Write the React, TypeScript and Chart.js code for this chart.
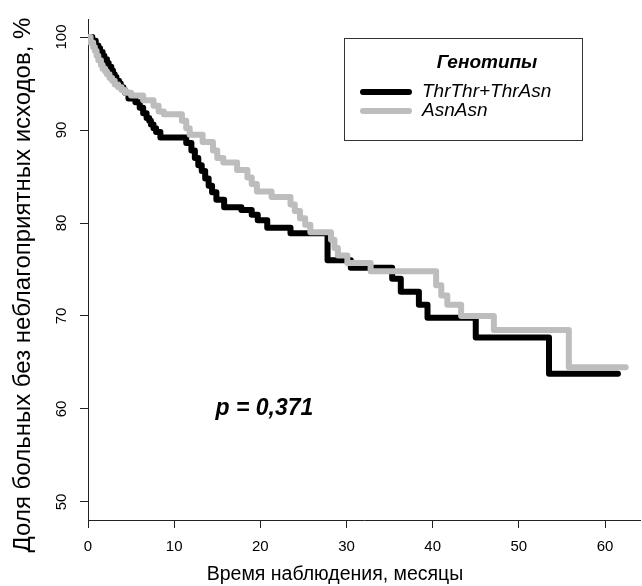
import React, { useEffect, useRef } from 'react';
import { Chart, registerables } from 'chart.js';

Chart.register(...registerables);

const xTicks = [0, 10, 20, 30, 40, 50, 60];
const yTicks = [50, 60, 70, 80, 90, 100];

const seriesLabels = ['ThrThr+ThrAsn', 'AsnAsn'];
const legendTitle = 'Генотипы';
const pValueText = 'p = 0,371';
const xTitle = 'Время наблюдения, месяцы';
const yTitle = 'Доля больных без неблагоприятных исходов, %';

const thrTimes = [0, 0.5, 0.9, 1.2, 1.4, 1.7, 1.9, 2.2, 2.4, 2.7, 2.9, 3.1, 3.3, 3.6, 3.8, 4.1, 4.3, 4.7, 5.5, 6.0, 6.4, 6.8, 7.1, 7.3, 7.6, 7.9, 8.4, 11.4, 12.0, 12.4, 12.8, 13.2, 13.6, 14.0, 14.4, 14.9, 15.8, 17.8, 19.0, 19.7, 20.8, 23.5, 27.8, 30.5, 35.3, 36.3, 38.4, 39.4, 45.0, 53.5, 61.5];
const thrSurv = [100, 99.6, 99.1, 98.8, 98.4, 98.0, 97.6, 97.2, 96.8, 96.4, 96.0, 95.7, 95.3, 95.0, 94.6, 94.3, 94.0, 93.4, 93.0, 92.4, 91.8, 91.3, 91.0, 90.6, 90.2, 89.8, 89.2, 88.6, 87.8, 87.0, 86.2, 85.6, 84.8, 84.0, 83.3, 82.5, 81.7, 81.4, 80.9, 80.3, 79.5, 78.9, 76.0, 75.2, 74.0, 72.6, 71.2, 69.8, 67.7, 63.8, 63.8];

const asnTimes = [0, 0.3, 0.6, 0.8, 1.0, 1.2, 1.5, 1.7, 2.0, 2.2, 2.5, 2.8, 3.1, 3.5, 3.9, 4.3, 5.0, 6.4, 7.6, 8.2, 8.8, 10.9, 11.4, 11.8, 13.3, 14.5, 15.0, 15.7, 17.3, 18.5, 19.0, 19.6, 21.3, 23.5, 24.0, 24.6, 25.2, 25.8, 28.2, 28.6, 29.0, 30.1, 32.8, 40.4, 41.0, 41.7, 43.3, 47.1, 55.8, 62.4];
const asnSurv = [100, 99.4, 98.9, 98.5, 98.0, 97.5, 97.0, 96.6, 96.3, 96.0, 95.6, 95.3, 94.9, 94.6, 94.3, 94.0, 93.7, 93.2, 92.6, 92.0, 91.7, 91.0, 90.2, 89.5, 88.7, 87.8, 87.0, 86.5, 85.7, 84.9, 84.2, 83.4, 82.8, 82.0, 81.3, 80.5, 79.8, 79.0, 78.2, 77.3, 76.5, 75.7, 74.8, 73.3, 72.2, 71.2, 70.0, 68.5, 64.5, 64.5];

const FONT = "'Liberation Sans', Arial, Helvetica, sans-serif";
const BLACK = '#000000';
const GRAY = '#bdbdbd';

const toPoints = (t: number[], v: number[]) => t.map((x, i) => ({ x, y: v[i] }));

const overlayPlugin = {
  id: 'overlay',
  afterDraw(chart: any) {
    const ctx = chart.ctx as CanvasRenderingContext2D;
    const ys = chart.scales.y;
    const xs = chart.scales.x;
    ctx.save();
    ctx.fillStyle = '#000';
    // rotated y tick labels
    ctx.font = `15px ${FONT}`;
    ctx.textAlign = 'center';
    ctx.textBaseline = 'middle';
    ys.ticks.forEach((t: any) => {
      const y = ys.getPixelForValue(t.value);
      ctx.save();
      ctx.translate(62, y);
      ctx.rotate(-Math.PI / 2);
      ctx.fillText(String(t.value), 0, 0);
      ctx.restore();
    });
    // y title
    ctx.save();
    ctx.font = `24px ${FONT}`;
    ctx.translate(23, 285);
    ctx.rotate(-Math.PI / 2);
    ctx.fillText(yTitle, 0, 0);
    ctx.restore();

    // x title
    ctx.font = `19.5px ${FONT}`;
    ctx.textAlign = 'center';
    ctx.fillText(xTitle, 335, 575);

    // legend box
    ctx.strokeStyle = '#333';
    ctx.lineWidth = 1;
    ctx.strokeRect(344.5, 38.5, 238, 102);
    ctx.font = `bold italic 19px ${FONT}`;
    ctx.textAlign = 'center';
    ctx.fillText(legendTitle, 487, 63);
    const colors = [BLACK, GRAY];
    const rowsY = [92, 111];
    seriesLabels.forEach((lab, i) => {
      ctx.strokeStyle = colors[i];
      ctx.lineWidth = 6;
      ctx.lineCap = 'round';
      ctx.beginPath();
      ctx.moveTo(363, rowsY[i]);
      ctx.lineTo(409, rowsY[i]);
      ctx.stroke();
      ctx.font = `italic 19px ${FONT}`;
      ctx.textAlign = 'left';
      ctx.fillText(lab, 422, rowsY[i]);
    });

    // p value
    ctx.font = `bold italic 23px ${FONT}`;
    ctx.textAlign = 'left';
    ctx.fillText(pValueText, xs.getPixelForValue(14.8), ys.getPixelForValue(60));
    ctx.restore();
  },
};

export default function App() {
  const ref = useRef<HTMLCanvasElement | null>(null);
  useEffect(() => {
    document.body.style.margin = '0';
    const canvas = ref.current!;
    const chart = new Chart(canvas, {
      type: 'line',
      data: {
        datasets: [
          {
            label: seriesLabels[0],
            data: toPoints(thrTimes, thrSurv),
            borderColor: BLACK,
            borderWidth: 6,
            stepped: 'before',
            pointRadius: 0,
            fill: false,
            borderCapStyle: 'round',
            borderJoinStyle: 'round',
            order: 1,
          },
          {
            label: seriesLabels[1],
            data: toPoints(asnTimes, asnSurv),
            borderColor: GRAY,
            borderWidth: 6,
            stepped: 'before',
            pointRadius: 0,
            fill: false,
            borderCapStyle: 'round',
            borderJoinStyle: 'round',
            order: 0,
          },
        ],
      },
      options: {
        animation: false,
        responsive: false,
        maintainAspectRatio: false,
        layout: { padding: { top: 19, right: 2, left: 0, bottom: 0 } },
        plugins: { legend: { display: false }, tooltip: { enabled: false } },
        scales: {
          x: {
            type: 'linear',
            min: 0,
            max: 64.06,
            afterBuildTicks: (s: any) => { s.ticks = xTicks.map((v) => ({ value: v })); },
            afterFit: (s: any) => { s.height = 66; },
            grid: { drawOnChartArea: false, drawTicks: true, tickLength: 8, color: '#222', lineWidth: 1 },
            border: { display: true, color: '#222', width: 1 },
            ticks: { color: '#000', font: { family: FONT, size: 15 }, padding: 10, maxRotation: 0, autoSkip: false },
            title: { display: false },
          },
          y: {
            type: 'linear',
            min: 48.06,
            max: 101.94,
            afterBuildTicks: (s: any) => { s.ticks = yTicks.map((v) => ({ value: v })); },
            afterFit: (s: any) => { s.width = 88; },
            grid: { drawOnChartArea: false, drawTicks: true, tickLength: 8, color: '#222', lineWidth: 1 },
            border: { display: true, color: '#222', width: 1 },
            ticks: { display: false },
          },
        },
      },
      plugins: [overlayPlugin],
    } as any);
    return () => chart.destroy();
  }, []);
  return <canvas ref={ref} width={642} height={586} style={{ display: 'block' }} />;
}
